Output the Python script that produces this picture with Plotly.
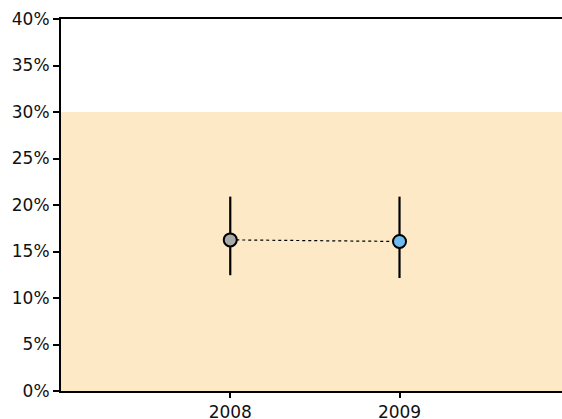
import plotly.graph_objects as go

years = [2008, 2009]
values = [16.25, 16.08]
err_upper = [20.9, 20.9]
err_lower = [12.45, 12.15]
marker_colors = ["#a9a9a9", "#6cbcf2"]
shade_top = 30
y_ticks = [0, 5, 10, 15, 20, 25, 30, 35, 40]
y_tick_labels = [f"{v}%" for v in y_ticks]
x_tick_labels = ["2008", "2009"]

fig = go.Figure()

fig.add_shape(type="rect", xref="paper", yref="y", x0=0, x1=1, y0=0, y1=shade_top,
              fillcolor="#fde9c6", line_width=0, layer="below")

fig.add_trace(go.Scatter(x=years, y=values, mode="lines",
                         line=dict(color="black", width=1.2, dash="dot"),
                         showlegend=False, hoverinfo="skip"))

for yr, v, up, lo, c in zip(years, values, err_upper, err_lower, marker_colors):
    fig.add_trace(go.Scatter(
        x=[yr], y=[v], mode="markers",
        marker=dict(size=13, color=c, line=dict(color="black", width=2)),
        error_y=dict(type="data", symmetric=False, array=[up - v], arrayminus=[v - lo],
                     color="black", thickness=2.2, width=0),
        showlegend=False))

font = dict(family="DejaVu Sans, Verdana, sans-serif", size=17, color="#111")

fig.update_layout(
    width=562, height=419,
    margin=dict(l=61, r=0, t=19, b=28),
    paper_bgcolor="white", plot_bgcolor="white",
    font=font,
    xaxis=dict(range=[2007.0, 2009.96], tickvals=years, ticktext=x_tick_labels,
               showgrid=False, zeroline=False, showline=True, linecolor="black",
               linewidth=2, mirror=True, ticks="outside", ticklen=5, tickwidth=1.5,
               tickcolor="black", tickfont=font, automargin=False),
    yaxis=dict(range=[0, 40], tickvals=y_ticks, ticktext=y_tick_labels,
               showgrid=False, zeroline=False, showline=True, linecolor="black",
               linewidth=2, ticks="outside", ticklen=6, tickwidth=1.5,
               tickcolor="black", tickfont=font, automargin=False),
)

fig.write_html("out.html", config={"displayModeBar": False},
               post_script="document.body.style.margin='0';document.body.style.overflow='hidden';")
